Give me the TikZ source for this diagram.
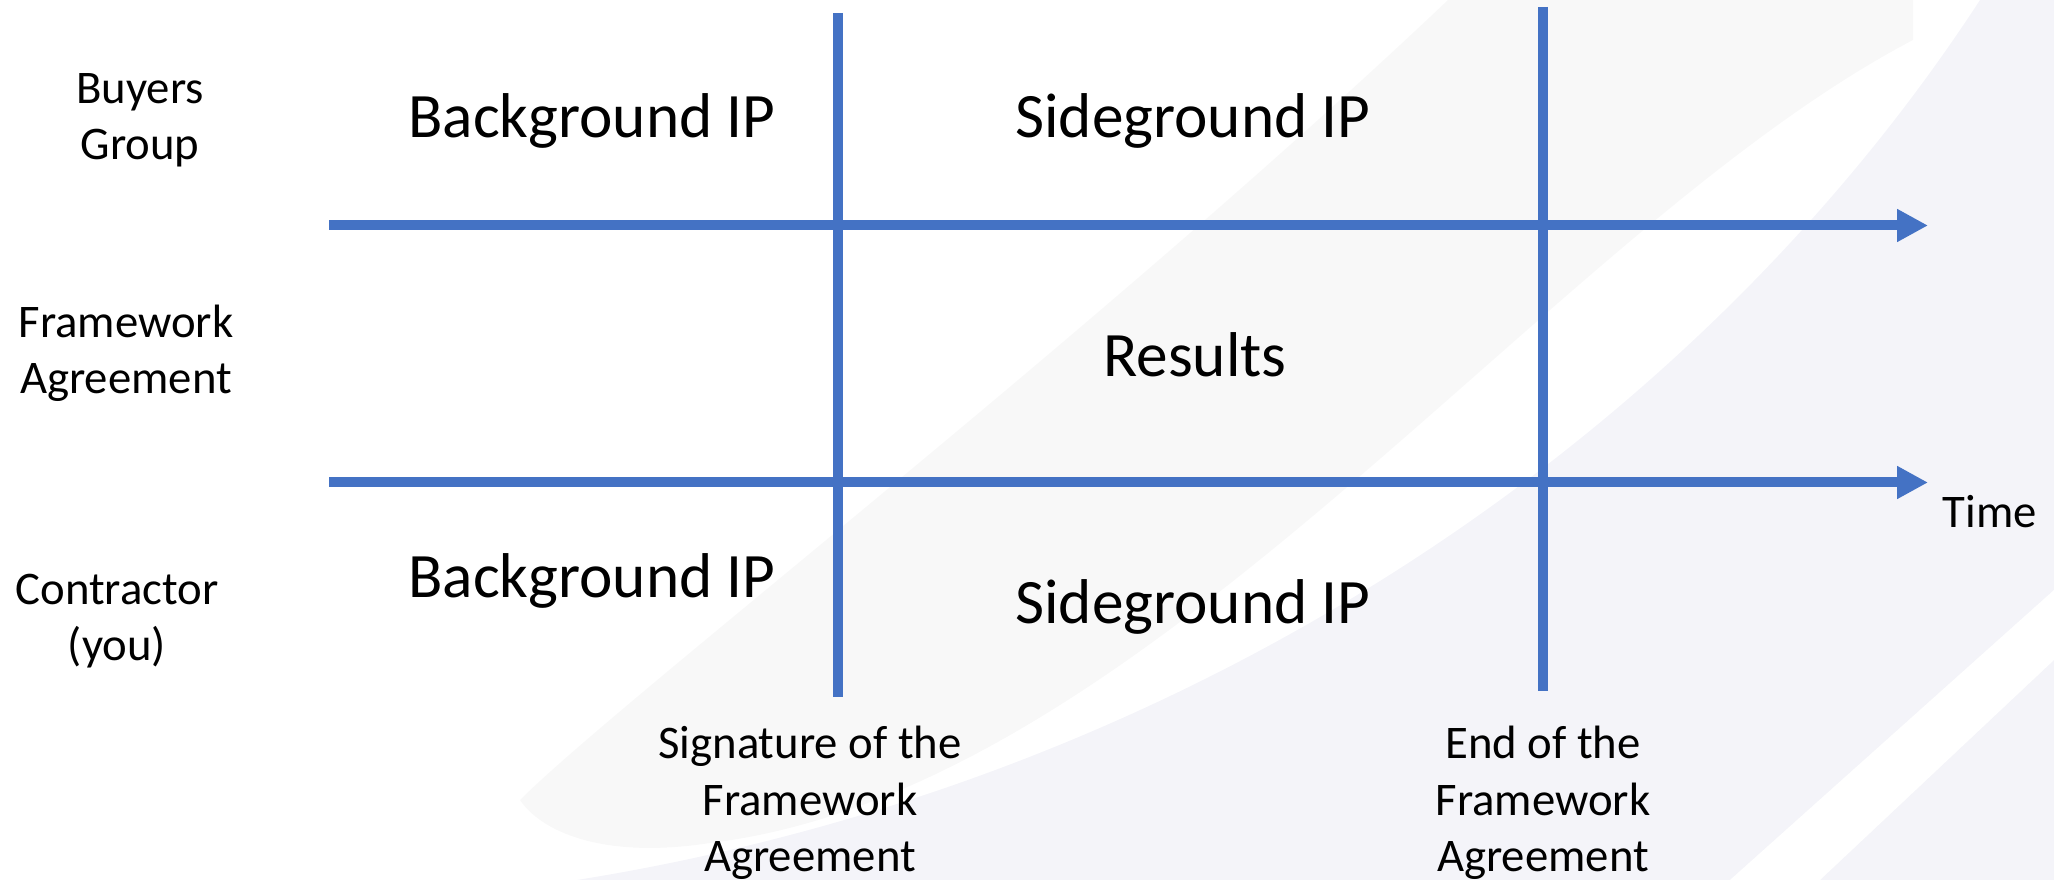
\documentclass[tikz,border=0pt]{standalone}
\usepackage{fontspec}
\setmainfont{Carlito}
\usepackage{xcolor}
\usepackage{tikz}
\usetikzlibrary{arrows.meta}

\definecolor{ipblue}{HTML}{4472C4}
\definecolor{wmgray}{HTML}{F8F8F8}
\definecolor{wmlav}{HTML}{F4F4F9}

\begin{document}
\begin{tikzpicture}[
    scale=1,
    rowlabel/.style={
        inner sep=0pt,
        align=center,
        font=\fontsize{13.3}{16}\selectfont
    },
    zone/.style={
        inner sep=0pt,
        anchor=base,
        font=\fontsize{18}{22}\selectfont
    },
    timeline/.style={
        draw=ipblue,
        line width=1mm,
        -{Triangle[length=3.1mm, width=3.1mm]}
    },
    milestone/.style={
        draw=ipblue,
        line width=1mm
    }
]

\useasboundingbox (0,0) rectangle (20.54,8.8);

% Watermark
\fill[wmlav] (5.77,0) .. controls (12,1.0) and (17,4.5) .. (19.80,8.80)
    -- (20.54,8.80) -- (20.54,0) -- cycle;
\fill[white] (17.3,0) -- (20.54,2.9) -- (20.54,2.2) -- (18.2,0) -- cycle;
\fill[wmgray] (5.20,0.80) .. controls (6.20,1.80) and (11.00,5.50) .. (14.48,8.80)
    -- (19.13,8.80) -- (19.13,8.40)
    .. controls (15.5,6.5) and (11.5,0.9) .. (7.10,0.37)
    .. controls (6.00,0.20) and (5.40,0.50) .. cycle;

% Ends of the lines
\coordinate (T0) at (3.29,6.545);
\coordinate (T1) at (19.28,6.545);
\coordinate (B0) at (3.29,3.975);
\coordinate (B1) at (19.28,3.975);
\coordinate (S0) at (8.375,8.67);
\coordinate (S1) at (8.375,1.83);
\coordinate (E0) at (15.43,8.73);
\coordinate (E1) at (15.43,1.89);

% Connections
\draw[milestone] (S0) -- (S1);
\draw[milestone] (E0) -- (E1);
\draw[timeline] (T0) -- (T1);
\draw[timeline] (B0) -- (B1);

% Nodes
\node[rowlabel] (buyers) at (1.40,7.60) {Buyers\\Group};
\node[rowlabel] (fwa) at (1.26,5.27) {Framework\\Agreement};
\node[rowlabel] (contractor) at (1.17,2.59) {Contractor\\(you)};

\node[zone] (bgbuyers) at (5.92,7.42) {Background IP};
\node[zone] (sgbuyers) at (11.93,7.42) {Sideground IP};
\node[zone] (results) at (11.95,5.03) {Results};
\node[zone] (bgcontractor) at (5.92,2.82) {Background IP};
\node[zone] (sgcontractor) at (11.93,2.56) {Sideground IP};

\node[rowlabel] (signature) at (8.10,0.77) {Signature of the\\Framework\\Agreement};
\node[rowlabel] (end) at (15.43,0.77) {End of the\\Framework\\Agreement};
\node[rowlabel, anchor=base west] (time) at (19.42,3.52) {Time};

\end{tikzpicture}
\end{document}
